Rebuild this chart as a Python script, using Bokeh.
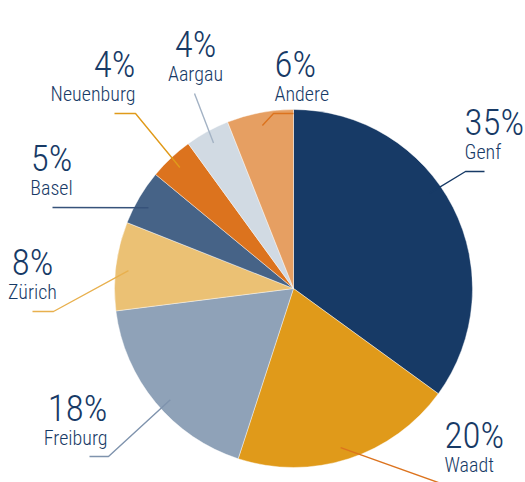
import math
from bokeh.plotting import figure
from bokeh.models import Range1d, ColumnDataSource
from bokeh.core.properties import value
from bokeh.embed import file_html
from bokeh.resources import INLINE

# ---- data ----
regions = ["Genf", "Waadt", "Freiburg", "Zürich", "Basel", "Neuenburg", "Aargau", "Andere"]
shares = [35, 20, 18, 8, 5, 4, 4, 6]
pct_labels = ["35%", "20%", "18%", "8%", "5%", "4%", "4%", "6%"]

# ---- styles ----
slice_colors = ["#173a66", "#e09a1a", "#8fa2b8", "#ebc174", "#466387", "#dc731e", "#d1dae3", "#e69f62"]
line_colors = ["#173a66", "#dc731e", "#7f93ad", "#e8b04e", "#36527a", "#e09a1a", "#a3b2c4", "#dc731e"]
TEXT = "#173a66"
PCT_FONT = "'Roboto Condensed Light', 'Roboto Condensed', sans-serif"
LAB_FONT = "'Roboto Condensed Light', 'Roboto Condensed', sans-serif"
R = 179
ANCHOR_R = 166
# per-label layout: angle tweak (deg), leader points after anchor, text x, align, base y
layout = {
    "Genf":      dict(dang=-8, pts=[(172, 117), (191, 117)], tx=171, align="left", ty=117),
    "Waadt":     dict(dang=1.5, pts=[(170, -203)], tx=151, align="left", ty=-196),
    "Freiburg":  dict(dang=-2.5, pts=[(-185, -168), (-204, -168)], tx=-186, align="right", ty=-169),
    "Zürich":    dict(dang=-1, pts=[(-240, -23), (-261, -23)], tx=-261, align="center", ty=-23),
    "Basel":     dict(dang=-1.5, pts=[(-241, 81)], tx=-242, align="center", ty=81),
    "Neuenburg": dict(dang=0, pts=[(-158, 175), (-179, 175)], tx=-158, align="right", ty=175),
    "Aargau":    dict(dang=0, pts=[(-99, 195)], tx=-98, align="center", ty=195),
    "Andere":    dict(dang=0, pts=[(-20, 175), (0, 175)], tx=-19, align="left", ty=175),
}

total = sum(shares)
starts, ends, mids = [], [], []
cum = 0
for s in shares:
    a0 = cum / total
    cum += s
    a1 = cum / total
    starts.append(math.pi / 2 - 2 * math.pi * a1)
    ends.append(math.pi / 2 - 2 * math.pi * a0)
    mids.append((a0 + a1) / 2 * 360)

p = figure(width=525, height=482, output_backend="svg", toolbar_location=None,
           x_range=Range1d(-293, 232), y_range=Range1d(-194, 288),
           min_border=0, outline_line_color=None)
p.axis.visible = False
p.grid.visible = False
p.background_fill_color = "white"
p.border_fill_color = "white"

src = ColumnDataSource(dict(start=starts, end=ends, color=slice_colors))
p.wedge(x=0, y=0, radius=R, start_angle="start", end_angle="end", color="color",
        line_color="white", line_width=0.6, line_alpha=0.7, source=src)

for i, name in enumerate(regions):
    L = layout[name]
    ang = math.radians(mids[i] + L["dang"])
    ax, ay = ANCHOR_R * math.sin(ang), ANCHOR_R * math.cos(ang)
    xs = [ax] + [q[0] for q in L["pts"]]
    ys = [ay] + [q[1] for q in L["pts"]]
    p.line(xs, ys, line_color=line_colors[i], line_width=1.4)

for i, name in enumerate(regions):
    L = layout[name]
    p.text(x=[L["tx"]], y=[L["ty"] + 49], text=[pct_labels[i]], text_font=value(PCT_FONT),
           text_font_size="37px", text_color=TEXT, text_align=L["align"],
           text_baseline="alphabetic")
    p.text(x=[L["tx"]], y=[L["ty"] + 20], text=[name], text_font=value(LAB_FONT),
           text_font_size="20px", text_color=TEXT, text_align=L["align"],
           text_baseline="alphabetic")

open("out.html", "w").write(file_html(p, INLINE))
